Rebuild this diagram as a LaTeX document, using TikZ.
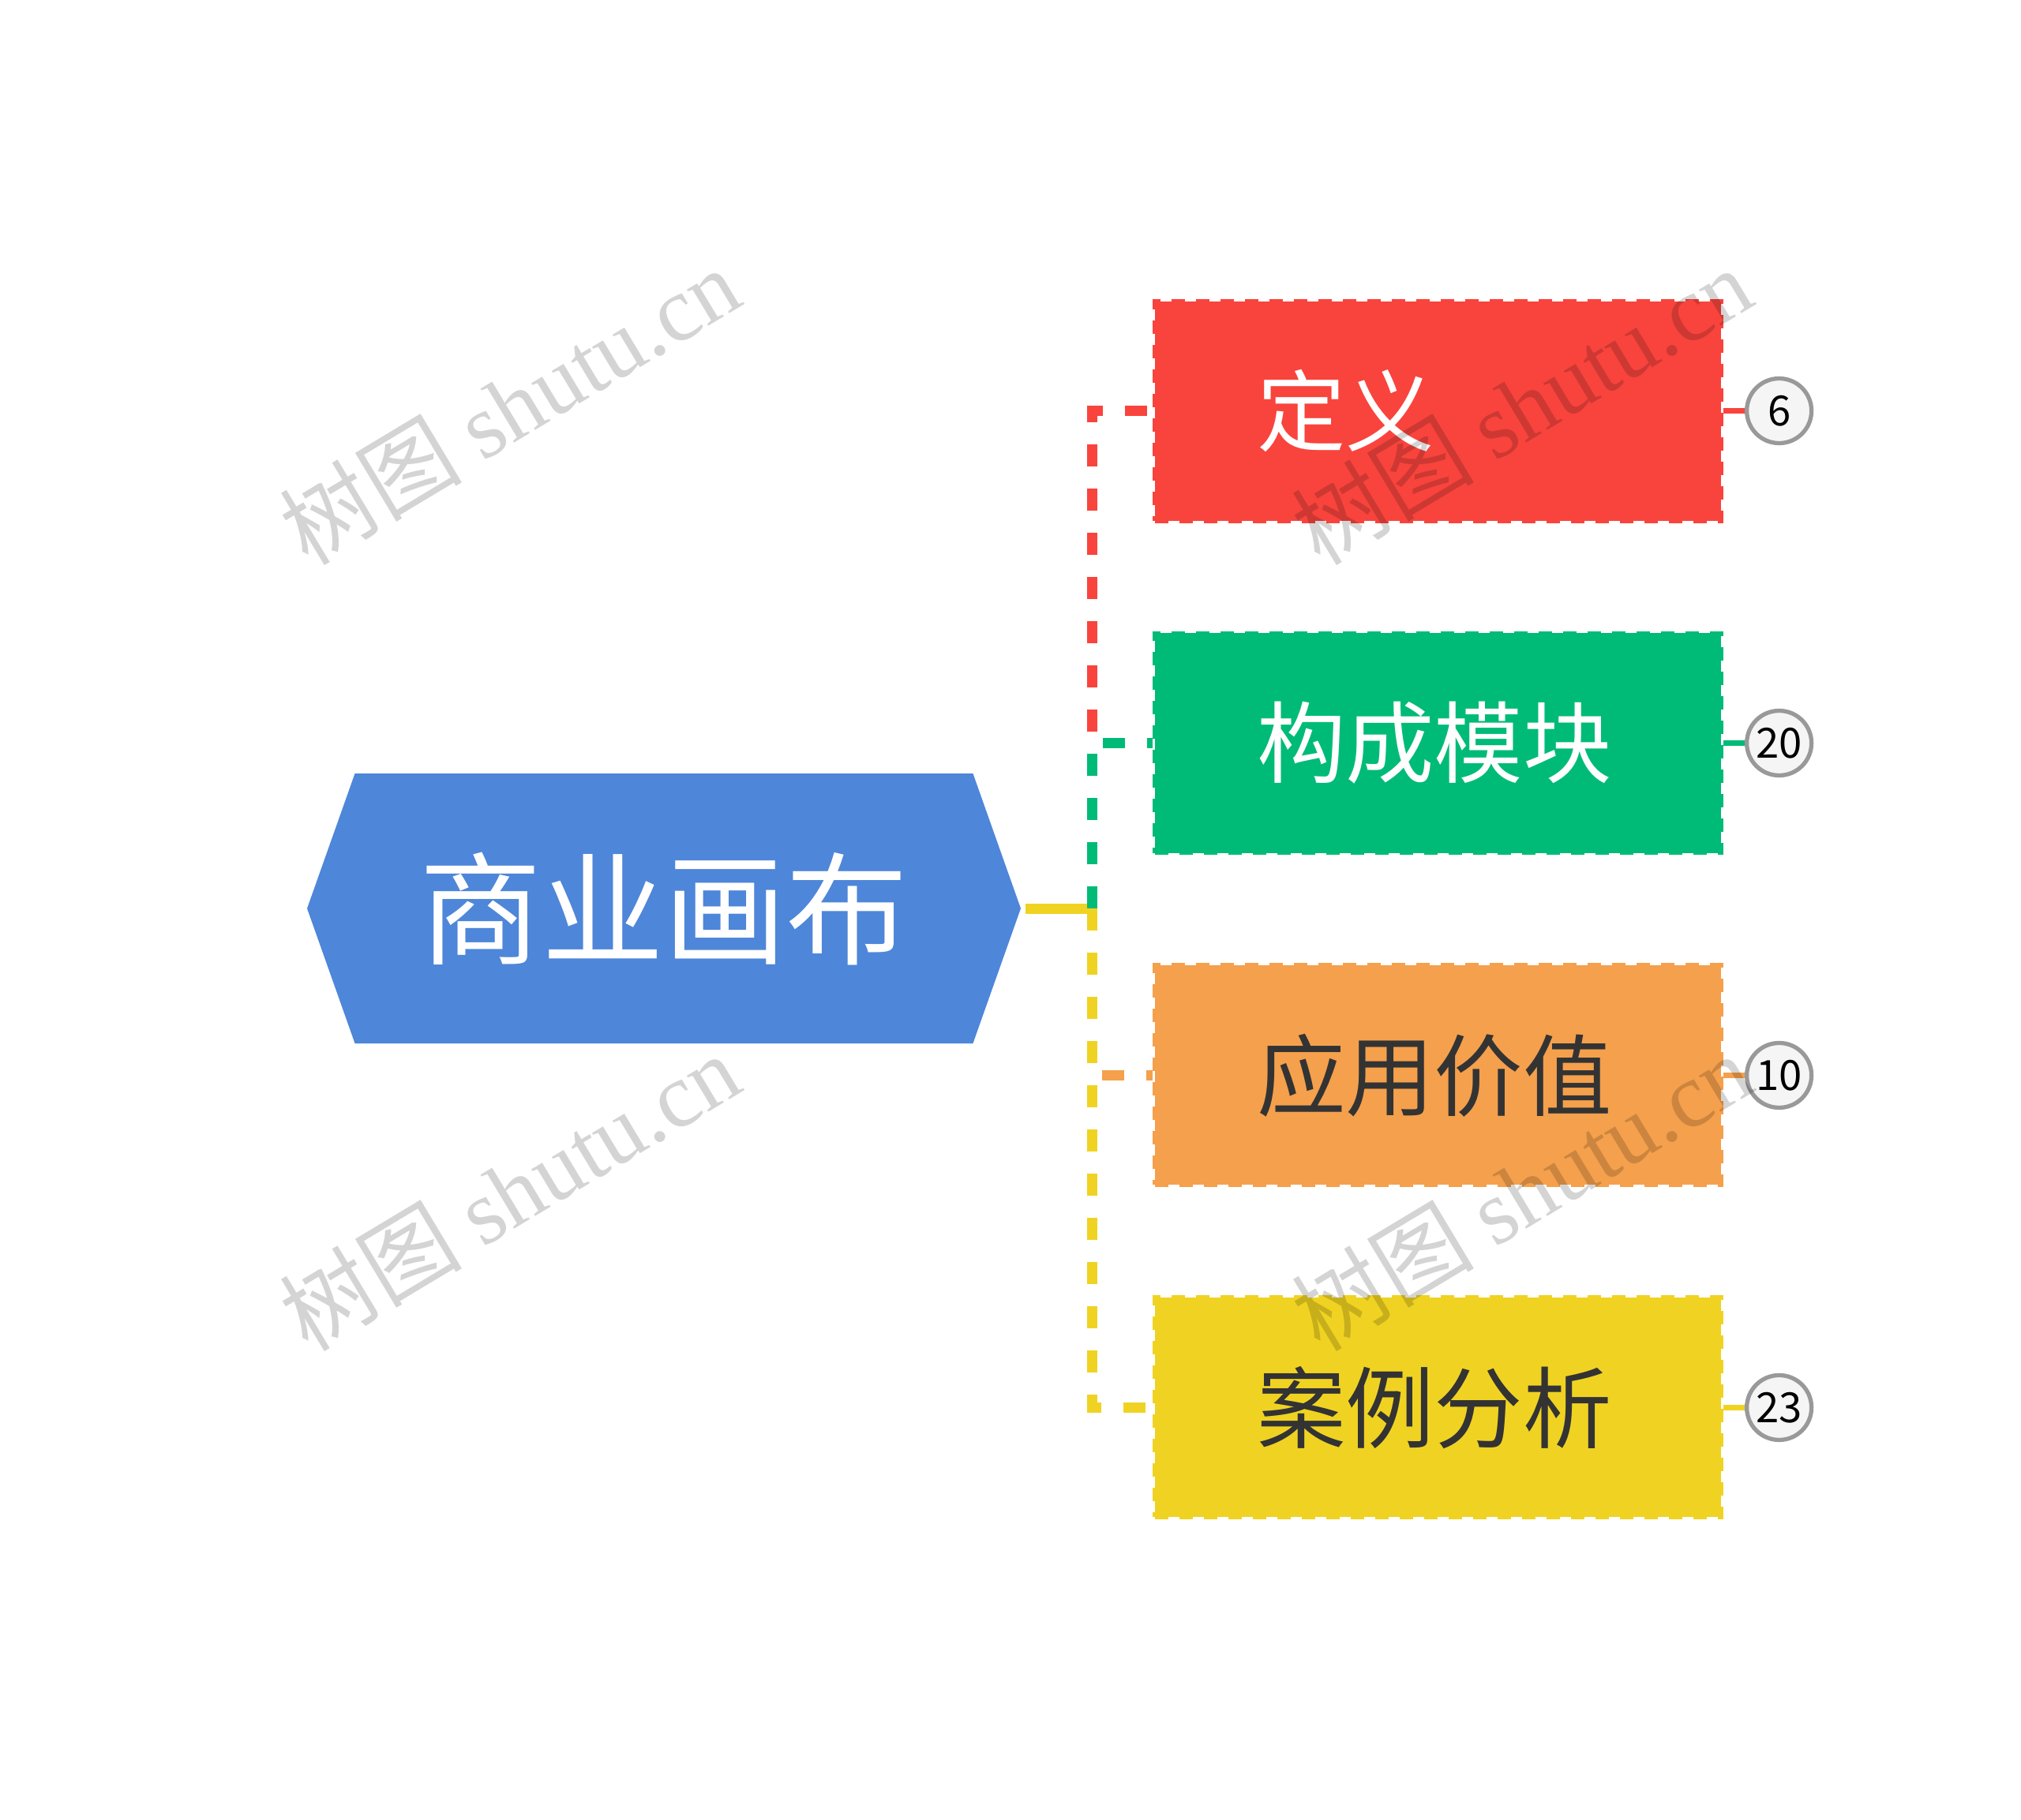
\documentclass[tikz,border=0pt]{standalone}
\usepackage{fontspec}
\setmainfont{Noto Sans CJK SC}
\newfontfamily\wmfont{Liberation Serif}
\usetikzlibrary{positioning,shapes.symbols}

\definecolor{rootblue}{HTML}{4E86D9}
\definecolor{defred}{HTML}{F8443D}
\definecolor{modgreen}{HTML}{00BB77}
\definecolor{valorange}{HTML}{F5A04C}
\definecolor{caseyellow}{HTML}{F0D322}
\definecolor{txtdark}{HTML}{333333}

\begin{document}
\begin{tikzpicture}[
        node distance=1.37cm and 0.27cm,
        root/.style={shape=signal, signal to=east and west, signal pointer angle=141, fill=rootblue, text=white, font=\fontsize{44}{50}\selectfont, minimum width=9.04cm, minimum height=3.42cm, inner sep=0pt},
        topic/.style={draw=#1, fill=#1, line width=1.7pt, dash pattern=on 0.17cm off 0.14cm, text width=4.59cm, align=left, inner xsep=1.29cm, inner ysep=0pt, minimum height=2.78cm, font=\fontsize{32}{38}\selectfont},
        count/.style={circle, draw=gray!80, line width=1.5pt, fill=gray!8, minimum size=0.82cm, inner sep=0pt, font=\fontsize{15}{18}\selectfont},
        branch/.style={line width=3.7pt, dash pattern=on 0.28cm off 0.28cm},
        tick/.style={line width=2pt},
        watermark/.style={text=black, text opacity=0.17, rotate=31, font=\fontsize{33}{38}\selectfont}
    ]
    \useasboundingbox (0,0) rectangle (25.6,-23.05);

    % Nodes
    \node[root] (root) at (8.41,-11.51) {商业画布};
    \coordinate (trunk) at (13.83,-11.51);

    \node[topic=defred, text=white] (def) at (18.215,-5.205) {定义};
    \node[topic=modgreen, text=white, below=of def] (mod) {构成模块};
    \node[topic=valorange, text=txtdark, below=of mod] (val) {应用价值};
    \node[topic=caseyellow, text=txtdark, below=of val] (case) {案例分析};

    \node[count, right=of def] (n1) {6};
    \node[count, right=of mod] (n2) {20};
    \node[count, right=of val] (n3) {10};
    \node[count, right=of case] (n4) {23};

    % Edges
    \draw[line width=3.7pt, caseyellow] ([xshift=0.05cm]root.east) -- (trunk);
    \draw[branch, defred] (trunk) |- (def.west);
    \draw[branch, modgreen] (trunk) |- (mod.west);
    \draw[branch, valorange] (trunk) |- (val.west);
    \draw[branch, caseyellow] (trunk) |- (case.west);

    \draw[tick, defred] (def.east) -- (n1);
    \draw[tick, modgreen] (mod.east) -- (n2);
    \draw[tick, valorange] (val.east) -- (n3);
    \draw[tick, caseyellow] (case.east) -- (n4);

    % Watermarks
    \node[watermark] (wm1) at (6.45,-5.14) {树图 {\wmfont shutu.cn}};
    \node[watermark] (wm2) at (6.45,-15.1) {树图 {\wmfont shutu.cn}};
    \node[watermark] (wm3) at (19.27,-5.14) {树图 {\wmfont shutu.cn}};
    \node[watermark] (wm4) at (19.27,-15.1) {树图 {\wmfont shutu.cn}};

\end{tikzpicture}
\end{document}
